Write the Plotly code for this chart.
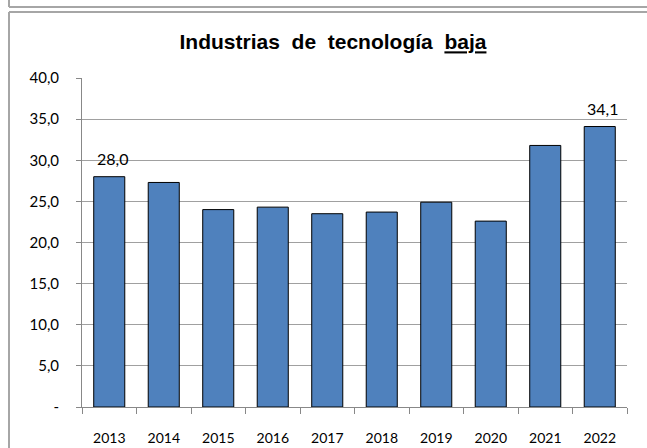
import plotly.graph_objects as go

years = ["2013", "2014", "2015", "2016", "2017", "2018", "2019", "2020", "2021", "2022"]
values = [28.0, 27.3, 24.0, 24.3, 23.5, 23.7, 24.9, 22.6, 31.8, 34.1]
labels = ["28,0", "", "", "", "", "", "", "", "", "34,1"]
ytick_vals = [0, 5, 10, 15, 20, 25, 30, 35, 40]
ytick_text = ["-", "5,0", "10,0", "15,0", "20,0", "25,0", "30,0", "35,0", "40,0"]

W, H = 647, 448
L, R, T, B = 82, 20, 78, 41
pw, ph = W - L - R, H - T - B


def px(x):
    return (x - L) / pw


def py(y):
    return (H - B - y) / ph


fig = go.Figure()
fig.add_trace(go.Bar(
    x=years, y=values,
    marker=dict(color="#4f81bd", line=dict(color="#000000", width=1)),
    width=0.57,
))

# category axis: annotation x given as category index
for i, (v, lab) in enumerate(zip(values, labels)):
    if lab:
        fig.add_annotation(x=i, y=v, text=lab, showarrow=False, yanchor="bottom",
                           yshift=7, xshift=3,
                           font=dict(family="Lato", size=16, color="#000000"))

border = "#a6a6a6"
shapes = [
    dict(type="line", xref="paper", yref="paper", x0=px(9), x1=px(9), y0=py(0), y1=py(7), line=dict(color=border, width=2)),
    dict(type="line", xref="paper", yref="paper", x0=px(9), x1=px(647), y0=py(7), y1=py(7), line=dict(color=border, width=2)),
    dict(type="line", xref="paper", yref="paper", x0=px(9), x1=px(647), y0=py(12), y1=py(12), line=dict(color=border, width=2)),
    dict(type="line", xref="paper", yref="paper", x0=px(9), x1=px(9), y0=py(12), y1=py(448), line=dict(color=border, width=2)),
]

fig.update_layout(
    width=W, height=H,
    margin=dict(l=L, r=R, t=T, b=B),
    paper_bgcolor="white", plot_bgcolor="white",
    showlegend=False,
    shapes=shapes,
    title=dict(text="Industrias&nbsp; de&nbsp; tecnología&nbsp; <u>baja</u>", x=333 / W, xanchor="center",
               y=1 - 42 / H, yanchor="middle", yref="container",
               font=dict(family="Liberation Sans", size=21, color="#000000", weight="bold")),
)
fig.update_xaxes(
    type="category", tickson="boundaries", ticks="outside", ticklen=6, tickcolor="#888888",
    showline=True, linecolor="#888888", linewidth=1, showgrid=False, automargin=False,
    tickfont=dict(family="Lato", size=14, color="#000000"), ticklabelstandoff=18,
)
fig.update_yaxes(
    range=[0, 40], tickvals=ytick_vals, ticktext=ytick_text,
    ticks="outside", ticklen=5, tickcolor="#888888", automargin=False,
    showgrid=True, gridcolor="#a0a0a0", gridwidth=1,
    showline=True, linecolor="#888888", linewidth=1, zeroline=False,
    tickfont=dict(family="Lato", size=15, color="#000000"), ticklabelstandoff=14,
)
fig.write_html(
    "out.html",
    config={"displayModeBar": False},
    post_script="document.body.style.margin='0';document.body.style.overflow='hidden';",
)
